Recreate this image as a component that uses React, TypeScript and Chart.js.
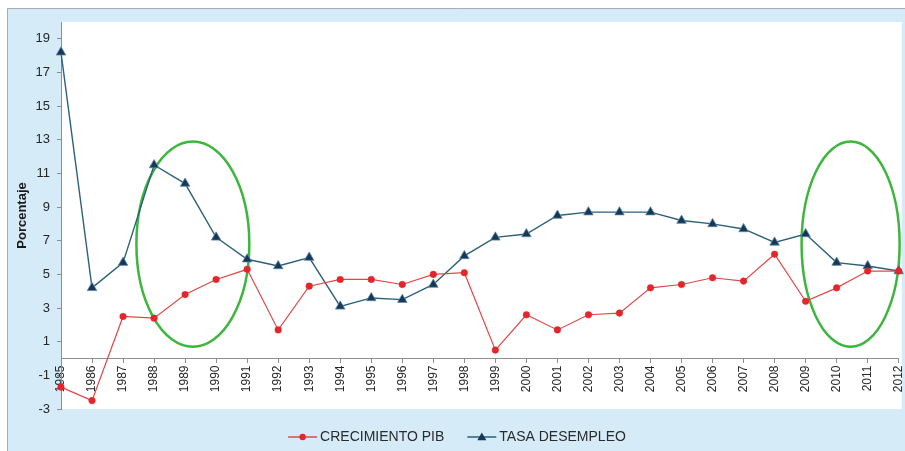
import React, { useEffect, useRef } from 'react';
import { Chart, registerables } from 'chart.js';

Chart.register(...registerables);

const years = [
  '1985', '1986', '1987', '1988', '1989', '1990', '1991', '1992', '1993', '1994',
  '1995', '1996', '1997', '1998', '1999', '2000', '2001', '2002', '2003', '2004',
  '2005', '2006', '2007', '2008', '2009', '2010', '2011', '2012',
];

const crecimientoPib = [
  -1.7, -2.5, 2.5, 2.4, 3.8, 4.7, 5.3, 1.7, 4.3, 4.7,
  4.7, 4.4, 5.0, 5.1, 0.5, 2.6, 1.7, 2.6, 2.7, 4.2,
  4.4, 4.8, 4.6, 6.2, 3.4, 4.2, 5.2, 5.2,
];

const tasaDesempleo = [
  18.2, 4.2, 5.7, 11.5, 10.4, 7.2, 5.9, 5.5, 6.0, 3.1,
  3.6, 3.5, 4.4, 6.1, 7.2, 7.4, 8.5, 8.7, 8.7, 8.7,
  8.2, 8.0, 7.7, 6.9, 7.4, 5.7, 5.5, 5.2,
];

const yTicks = [-3, -1, 1, 3, 5, 7, 9, 11, 13, 15, 17, 19];

const seriesLabels = ['CRECIMIENTO PIB', 'TASA DESEMPLEO'];

// highlighted periods (category index centre / value centre / half-widths)
const highlightCenterIndex = [4.25, 25.45];
const highlightCenterValue = [6.8, 6.8];
const highlightHalfIndex = [1.82, 1.58];
const highlightHalfValue = [6.1, 6.1];

const FONT = '"Liberation Sans", Arial, sans-serif';

const backgroundPlugin = {
  id: 'panelBg',
  beforeDraw(chart: any) {
    const { ctx, width, height, chartArea } = chart;
    ctx.save();
    ctx.fillStyle = '#ffffff';
    ctx.fillRect(0, 0, width, height);
    ctx.fillStyle = '#d5ebf8';
    ctx.fillRect(7, 8, width - 7, height - 8);
    ctx.strokeStyle = '#a7adb3';
    ctx.lineWidth = 1;
    ctx.beginPath();
    ctx.moveTo(7.5, height);
    ctx.lineTo(7.5, 8.5);
    ctx.lineTo(width, 8.5);
    ctx.stroke();
    ctx.fillStyle = '#ffffff';
    ctx.fillRect(chartArea.left, chartArea.top, chartArea.right - chartArea.left + 3, chartArea.bottom - chartArea.top);
    ctx.restore();
  },
};

const ellipsePlugin = {
  id: 'highlightEllipses',
  beforeDatasetsDraw(chart: any) {
    const { ctx, scales } = chart;
    const x = scales.x;
    const y = scales.y;
    ctx.save();
    ctx.strokeStyle = '#3db63d';
    ctx.lineWidth = 2.5;
    for (let i = 0; i < highlightCenterIndex.length; i++) {
      const cx = x.getPixelForValue(highlightCenterIndex[i]);
      const cy = y.getPixelForValue(highlightCenterValue[i]);
      const rx = Math.abs(x.getPixelForValue(highlightCenterIndex[i] + highlightHalfIndex[i]) - cx);
      const ry = Math.abs(y.getPixelForValue(highlightCenterValue[i] + highlightHalfValue[i]) - cy);
      ctx.beginPath();
      ctx.ellipse(cx, cy, rx, ry, 0, 0, Math.PI * 2);
      ctx.stroke();
    }
    ctx.restore();
  },
};

const legendPlugin = {
  id: 'lineLegend',
  afterDraw(chart: any) {
    const { ctx } = chart;
    const datasets = chart.data.datasets;
    ctx.save();
    ctx.font = `14px ${FONT}`;
    const lineW = 29;
    const gapText = 3;
    const gapItems = 23;
    const widths = datasets.map((d: any) => lineW + gapText + ctx.measureText(d.label).width);
    const total = widths.reduce((a: number, b: number) => a + b, 0) + gapItems * (datasets.length - 1);
    let x = 457 - total / 2;
    const yc = 437;
    datasets.forEach((d: any, i: number) => {
      ctx.strokeStyle = d.borderColor;
      ctx.lineWidth = 1.5;
      ctx.beginPath();
      ctx.moveTo(x, yc);
      ctx.lineTo(x + lineW, yc);
      ctx.stroke();
      const mx = x + lineW / 2;
      ctx.fillStyle = d.pointBackgroundColor;
      ctx.beginPath();
      if (d.pointStyle === 'triangle') {
        const r = 4.5;
        ctx.moveTo(mx, yc - r);
        ctx.lineTo(mx + r, yc + r * 0.7);
        ctx.lineTo(mx - r, yc + r * 0.7);
        ctx.closePath();
      } else {
        ctx.arc(mx, yc, 3.2, 0, Math.PI * 2);
      }
      ctx.fill();
      ctx.fillStyle = '#2b2b2b';
      ctx.textBaseline = 'middle';
      ctx.textAlign = 'left';
      ctx.fillText(d.label, x + lineW + gapText, yc + 0.5);
      x += widths[i] + gapItems;
    });
    ctx.restore();
  },
};

export default function App() {
  const canvasRef = useRef<HTMLCanvasElement | null>(null);

  useEffect(() => {
    document.body.style.margin = '0';
    const canvas = canvasRef.current;
    if (!canvas) return;
    const chart = new Chart(canvas, {
      type: 'line',
      data: {
        labels: years,
        datasets: [
          {
            label: seriesLabels[0],
            data: crecimientoPib,
            borderColor: '#e04848',
            backgroundColor: '#e3262b',
            pointBackgroundColor: '#e3262b',
            pointBorderColor: '#e3262b',
            pointStyle: 'circle',
            pointRadius: 3.3,
            pointBorderWidth: 0.5,
            borderWidth: 1.2,
            tension: 0,
          },
          {
            label: seriesLabels[1],
            data: tasaDesempleo,
            borderColor: '#2d6179',
            backgroundColor: '#16365a',
            pointBackgroundColor: '#16365a',
            pointBorderColor: '#5b8aa0',
            pointStyle: 'triangle',
            pointRadius: 5.5,
            pointBorderWidth: 0.8,
            borderWidth: 1.4,
            tension: 0,
          },
        ],
      },
      options: {
        responsive: false,
        animation: false,
        devicePixelRatio: 1,
        layout: { padding: { left: 0, top: 22, right: 5, bottom: 42 } },
        plugins: {
          legend: { display: false },
          tooltip: { enabled: false },
        },
        scales: {
          x: {
            type: 'category',
            position: { y: 0 } as any,
            offset: false,
            afterFit: (s: any) => {
              s.paddingLeft = 0;
              s.paddingRight = 0;
            },
            grid: { display: true, drawOnChartArea: false, drawTicks: true, tickLength: 4, color: '#8e8e8e' },
            border: { display: true, color: '#8e8e8e', width: 1 },
            ticks: {
              autoSkip: false,
              maxRotation: 90,
              minRotation: 90,
              padding: 3,
              color: '#262626',
              font: { family: FONT, size: 12 },
            },
          },
          y: {
            type: 'linear',
            min: -3,
            max: 20,
            afterBuildTicks: (s: any) => {
              s.ticks = yTicks.map((v) => ({ value: v }));
            },
            afterFit: (s: any) => {
              s.width = 61;
              s.paddingTop = 0;
              s.paddingBottom = 0;
            },
            grid: { display: true, drawOnChartArea: false, drawTicks: true, tickLength: 4, color: '#8e8e8e' },
            border: { display: true, color: '#8e8e8e', width: 1 },
            ticks: {
              padding: 7,
              color: '#262626',
              font: { family: FONT, size: 13 },
            },
            title: {
              display: true,
              text: 'Porcentaje',
              color: '#1a1a1a',
              font: { family: FONT, size: 13, weight: 'bold' },
              padding: { top: 15, bottom: 0 },
            },
          },
        },
      },
      plugins: [backgroundPlugin, ellipsePlugin, legendPlugin],
    } as any);
    return () => chart.destroy();
  }, []);

  return (
    <div style={{ width: 905, height: 451 }}>
      <canvas ref={canvasRef} width={905} height={451} style={{ display: 'block' }} />
    </div>
  );
}
